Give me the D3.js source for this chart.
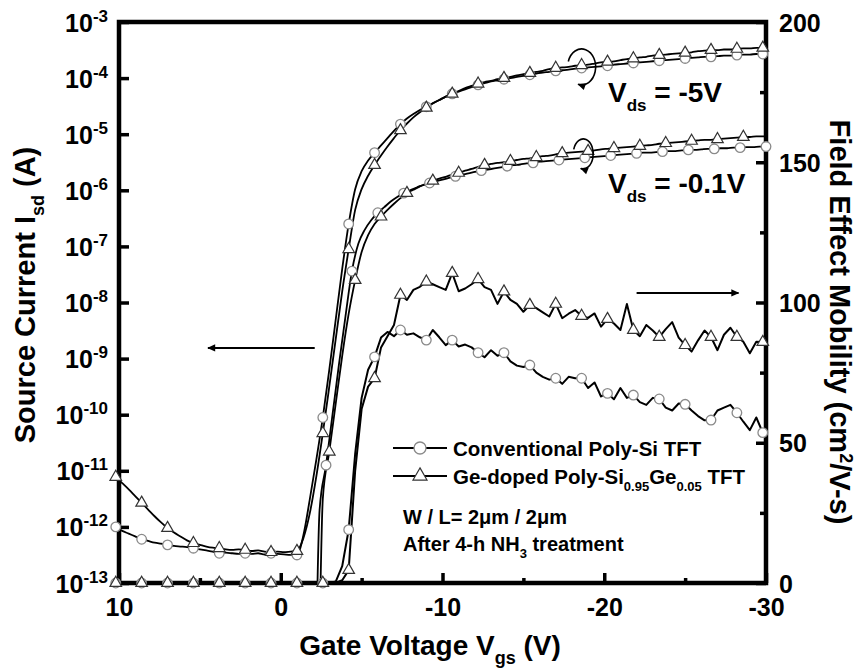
<!DOCTYPE html>
<html>
<head>
<meta charset="utf-8">
<script src="https://cdn.jsdelivr.net/npm/d3@7"></script>
<style>
    body { margin: 0; background: #fff; }
    svg { display: block; font-family: "Liberation Sans", Arial, sans-serif; font-weight: bold; }
</style>
</head>
<body>
<svg id="chart" width="864" height="670"></svg>
<script>
// gate sweep: first Vgs of each series and the step (V)
var vStartDrain5 = 10.2, vStartConv01 = 10.0, vStartGe01 = 9.8, vStartMob = 10.2, vStep = -0.4;

// log10 of source current (A)
var logIsdConv5 = [
    -12.00, -12.07, -12.12, -12.17, -12.22, -12.25, -12.28, -12.30, -12.32, -12.34,
    -12.35, -12.36, -12.38, -12.40, -12.42, -12.44, -12.47, -12.46, -12.47, -12.48,
    -12.47, -12.48, -12.47, -12.49, -12.47, -12.48, -12.49, -12.50, -12.50, -12.15,
    -11.50, -10.80, -10.05, -9.20, -8.30, -7.40, -6.60, -5.98, -5.66, -5.47,
    -5.33, -5.20, -5.07, -4.94, -4.82, -4.72, -4.64, -4.57, -4.51, -4.45,
    -4.39, -4.33, -4.28, -4.24, -4.20, -4.16, -4.12, -4.09, -4.06, -4.04,
    -4.02, -4.00, -3.98, -3.96, -3.94, -3.92, -3.90, -3.89, -3.87, -3.86,
    -3.85, -3.83, -3.82, -3.81, -3.80, -3.79, -3.78, -3.76, -3.75, -3.74,
    -3.73, -3.72, -3.71, -3.70, -3.69, -3.68, -3.67, -3.66, -3.65, -3.64,
    -3.63, -3.62, -3.62, -3.61, -3.60, -3.60, -3.59, -3.58, -3.58, -3.57, -3.57
];
var logIsdGe5 = [
    -11.11, -11.22, -11.33, -11.45, -11.57, -11.69, -11.81, -11.92, -12.02, -12.10,
    -12.17, -12.24, -12.29, -12.32, -12.35, -12.37, -12.38, -12.40, -12.41, -12.40,
    -12.41, -12.43, -12.42, -12.44, -12.45, -12.44, -12.45, -12.44, -12.43, -12.20,
    -11.75, -11.10, -10.33, -9.50, -8.65, -7.80, -7.05, -6.35, -5.98, -5.74,
    -5.55, -5.38, -5.22, -5.07, -4.93, -4.81, -4.70, -4.61, -4.53, -4.45,
    -4.39, -4.33, -4.28, -4.23, -4.18, -4.14, -4.10, -4.07, -4.05, -4.02,
    -4.00, -3.98, -3.95, -3.93, -3.91, -3.89, -3.87, -3.84, -3.82, -3.81,
    -3.80, -3.78, -3.77, -3.76, -3.74, -3.72, -3.71, -3.70, -3.68, -3.66,
    -3.65, -3.63, -3.62, -3.60, -3.59, -3.58, -3.57, -3.56, -3.55, -3.54,
    -3.52, -3.51, -3.50, -3.50, -3.49, -3.49, -3.48, -3.47, -3.47, -3.46, -3.46
];
// -0.1V curves sit below 1e-13 until about Vgs = -2 V
var logIsdConv01 = [
    -16, -16, -16, -16, -16, -16, -16, -16, -16, -16,
    -16, -16, -16, -16, -16, -16, -16, -16, -16, -16,
    -16, -16, -16, -16, -16, -16, -16, -16, -16, -16,
    -16, -11.70, -10.90, -10.00, -9.10, -8.25, -7.44, -6.95, -6.70, -6.53,
    -6.40, -6.30, -6.20, -6.12, -6.05, -6.00, -5.95, -5.91, -5.87, -5.84,
    -5.81, -5.78, -5.75, -5.72, -5.70, -5.67, -5.65, -5.63, -5.61, -5.59,
    -5.57, -5.55, -5.54, -5.52, -5.51, -5.49, -5.48, -5.47, -5.46, -5.45,
    -5.44, -5.43, -5.42, -5.41, -5.40, -5.39, -5.38, -5.37, -5.36, -5.35,
    -5.34, -5.33, -5.33, -5.32, -5.31, -5.30, -5.30, -5.29, -5.28, -5.28,
    -5.27, -5.26, -5.26, -5.25, -5.25, -5.24, -5.24, -5.23, -5.23, -5.22, -5.22
];
var logIsdGe01 = [
    -16, -16, -16, -16, -16, -16, -16, -16, -16, -16,
    -16, -16, -16, -16, -16, -16, -16, -16, -16, -16,
    -16, -16, -16, -16, -16, -16, -16, -16, -16, -16,
    -16, -11.50, -10.66, -9.80, -8.95, -8.20, -7.60, -7.10, -6.80, -6.60,
    -6.47, -6.35, -6.24, -6.14, -6.05, -5.99, -5.93, -5.88, -5.83, -5.79,
    -5.76, -5.72, -5.69, -5.65, -5.62, -5.58, -5.55, -5.53, -5.51, -5.50,
    -5.48, -5.46, -5.44, -5.43, -5.41, -5.39, -5.38, -5.36, -5.34, -5.33,
    -5.32, -5.31, -5.30, -5.29, -5.27, -5.26, -5.25, -5.24, -5.23, -5.22,
    -5.21, -5.20, -5.19, -5.17, -5.16, -5.15, -5.14, -5.13, -5.12, -5.11,
    -5.10, -5.10, -5.09, -5.08, -5.07, -5.06, -5.05, -5.05, -5.04, -5.04, -5.03
];

// field effect mobility (cm2/V-s)
var mobConv = [
    0, 0, 0, 0, 0, 0, 0, 0, 0, 0,
    0, 0, 0, 0, 0, 0, 0, 0, 0, 0,
    0, 0, 0, 0, 0, 0, 0, 0, 0, 0,
    0, 0, 0, 0, 0.5, 6.0, 19.0, 46.0, 66.0, 76.0,
    80.6, 87.5, 89.5, 88.0, 90.2, 88.5, 89.0, 87.6, 86.6, 90.2,
    87.6, 84.8, 86.6, 84.3, 85.0, 84.0, 82.1, 80.5, 83.0, 81.0,
    82.1, 79.0, 77.5, 77.0, 77.7, 75.0, 73.5, 72.5, 73.0, 71.0,
    73.5, 73.0, 73.0, 69.5, 71.5, 66.5, 67.6, 65.5, 69.5, 66.0,
    67.0, 64.5, 63.5, 66.0, 65.6, 62.5, 61.5, 64.0, 63.7, 61.5,
    59.5, 58.0, 58.1, 61.5, 62.5, 63.5, 60.7, 57.5, 54.5, 59.0, 53.6
];
var mobGe = [
    0, 0, 0, 0, 0, 0, 0, 0, 0, 0,
    0, 0, 0, 0, 0, 0, 0, 0, 0, 0,
    0, 0, 0, 0, 0, 0, 0, 0, 0, 0,
    0, 0, 0, 0, 0, 1.0, 4.6, 40.0, 62.0, 70.0,
    73.0, 84.0, 88.0, 92.0, 102.7, 100.9, 104.5, 105.6, 107.4, 106.5,
    105.5, 104.5, 110.5, 104.0, 105.0, 106.5, 108.3, 105.5, 104.5, 99.5,
    103.9, 100.9, 99.5, 96.7, 99.1, 98.0, 96.5, 95.0, 99.5, 94.4,
    96.0, 97.3, 95.2, 94.5, 96.1, 91.4, 94.1, 92.5, 90.2, 99.5,
    90.2, 88.0, 92.0, 90.0, 87.7, 90.5, 93.0, 87.5, 84.8, 82.5,
    86.5, 90.0, 87.7, 83.0, 88.5, 91.0, 87.7, 86.0, 81.9, 86.0, 85.9
];

var xTicksMajor = [10, 0, -10, -20, -30];
var xTicksMinor = [5, -5, -15, -25];
var isdExponents = [-3, -4, -5, -6, -7, -8, -9, -10, -11, -12, -13];
var mobTicksMajor = [0, 50, 100, 150, 200];
var mobTicksMinor = [25, 75, 125, 175];
var markerEvery = 4;

var svg = d3.select("#chart");
var plot = {left: 119, right: 766, top: 22, bottom: 583};

var x = d3.scaleLinear().domain([10, -30]).range([plot.left, plot.right]);
var yIsd = d3.scaleLog().domain([1e-13, 1e-3]).range([plot.bottom, plot.top]);
var yMob = d3.scaleLinear().domain([0, 200]).range([plot.bottom, plot.top]);

function toPoints(v0, vals, isLog) {
    return vals.map(function (v, i) {
        return {vgs: v0 + vStep * i, val: isLog ? Math.pow(10, v) : v};
    });
}

var series = [
    {pts: toPoints(vStartDrain5, logIsdConv5, true), y: yIsd, sym: "circle", curve: d3.curveMonotoneX},
    {pts: toPoints(vStartDrain5, logIsdGe5, true), y: yIsd, sym: "triangle", curve: d3.curveMonotoneX},
    {pts: toPoints(vStartConv01, logIsdConv01, true), y: yIsd, sym: "circle", curve: d3.curveMonotoneX},
    {pts: toPoints(vStartGe01, logIsdGe01, true), y: yIsd, sym: "triangle", curve: d3.curveMonotoneX},
    {pts: toPoints(vStartMob, mobConv, false), y: yMob, sym: "circle", curve: d3.curveLinear},
    {pts: toPoints(vStartMob, mobGe, false), y: yMob, sym: "triangle", curve: d3.curveLinear}
];

var defs = svg.append("defs");
defs.append("clipPath").attr("id", "plot-clip")
    .append("rect")
    .attr("x", plot.left).attr("y", plot.top - 2)
    .attr("width", plot.right - plot.left).attr("height", plot.bottom - plot.top + 4);
defs.append("marker")
    .attr("id", "arrow-head")
    .attr("viewBox", "0 0 10 10")
    .attr("refX", 9).attr("refY", 5)
    .attr("markerWidth", 11).attr("markerHeight", 8)
    .attr("markerUnits", "userSpaceOnUse")
    .attr("orient", "auto")
    .append("path").attr("d", "M0,0.5 L10,5 L0,9.5 z").attr("fill", "#000");

// curves
var lines = svg.append("g").attr("clip-path", "url(#plot-clip)");
series.forEach(function (s) {
    var line = d3.line()
        .x(function (d) { return x(d.vgs); })
        .y(function (d) { return s.y(d.val); })
        .curve(s.curve);
    lines.append("path")
        .datum(s.pts)
        .attr("d", line)
        .attr("fill", "none")
        .attr("stroke", "#000")
        .attr("stroke-width", s.y === yMob ? 2 : 1.8)
        .attr("stroke-linejoin", "round");
});

// frame
svg.append("rect")
    .attr("x", plot.left).attr("y", plot.top)
    .attr("width", plot.right - plot.left).attr("height", plot.bottom - plot.top)
    .attr("fill", "none").attr("stroke", "#000").attr("stroke-width", 4.5);

function styleAxis(g, fontSize) {
    g.select(".domain").remove();
    g.attr("font-family", null).attr("font-size", null);
    g.selectAll(".tick line").attr("stroke", "#000").attr("stroke-width", 3.5);
    g.selectAll(".tick text").attr("fill", "#000").style("font-size", fontSize + "px");
}

// bottom axis
svg.append("g")
    .attr("transform", "translate(0," + plot.bottom + ")")
    .call(d3.axisBottom(x).tickValues(xTicksMajor).tickSize(-10)
        .tickFormat(function (d) { return String(d); }))
    .call(styleAxis, 25)
    .call(function (g) { g.selectAll(".tick text").attr("y", 33).attr("dy", null); });
svg.append("g")
    .attr("transform", "translate(0," + plot.bottom + ")")
    .call(d3.axisBottom(x).tickValues(xTicksMinor).tickSize(-5).tickFormat(""))
    .call(styleAxis, 25);

// left axis, labels as 10^n
svg.append("g")
    .attr("transform", "translate(" + plot.left + ",0)")
    .call(d3.axisLeft(yIsd).tickValues(isdExponents.map(function (e) { return Math.pow(10, e); }))
        .tickSize(-10).tickPadding(11).tickFormat(""))
    .call(styleAxis, 25)
    .call(function (g) {
        g.selectAll(".tick text").each(function (d, i) {
            var t = d3.select(this).attr("dy", "0.36em");
            t.append("tspan").text("10");
            t.append("tspan").attr("dy", -10).style("font-size", "17px").text(String(isdExponents[i]));
        });
    });

// right axis
svg.append("g")
    .attr("transform", "translate(" + plot.right + ",0)")
    .call(d3.axisRight(yMob).tickValues(mobTicksMajor).tickSize(-10).tickPadding(13)
        .tickFormat(function (d) { return String(d); }))
    .call(styleAxis, 25)
    .call(function (g) { g.selectAll(".tick text").attr("dy", "0.36em"); });
svg.append("g")
    .attr("transform", "translate(" + plot.right + ",0)")
    .call(d3.axisRight(yMob).tickValues(mobTicksMinor).tickSize(-6).tickFormat(""))
    .call(styleAxis, 25);

// symbols
var triangle = d3.symbol().type(d3.symbolTriangle).size(58);
function drawSymbol(g, sym, px, py, big) {
    if (sym === "circle") {
        g.append("circle").attr("cx", px).attr("cy", py).attr("r", big ? 6 : 4.8)
            .attr("fill", "#fff").attr("stroke", "#8a8a8a").attr("stroke-width", 1.3);
    } else {
        g.append("path").attr("d", big ? d3.symbol().type(d3.symbolTriangle).size(85)() : triangle())
            .attr("transform", "translate(" + px + "," + py + ")")
            .attr("fill", "#fff").attr("stroke", "#333").attr("stroke-width", 1.2);
    }
}
var marks = svg.append("g");
["circle", "triangle"].forEach(function (sym) {
    series.filter(function (s) { return s.sym === sym; }).forEach(function (s) {
        var lo = s.y.domain()[0];
        s.pts.forEach(function (d, i) {
            if (i % markerEvery !== 0) return;
            if (d.val < lo || d.vgs < -30) return;
            drawSymbol(marks, sym, x(d.vgs), s.y(d.val), false);
        });
    });
});

// straight arrows pointing at each axis
svg.append("line")
    .attr("x1", x(-2.1)).attr("y1", yIsd(Math.pow(10, -8.81)))
    .attr("x2", x(4.5)).attr("y2", yIsd(Math.pow(10, -8.81)))
    .attr("stroke", "#000").attr("stroke-width", 2).attr("marker-end", "url(#arrow-head)");
svg.append("line")
    .attr("x1", x(-22)).attr("y1", yMob(103.4))
    .attr("x2", x(-28.3)).attr("y2", yMob(103.4))
    .attr("stroke", "#000").attr("stroke-width", 2).attr("marker-end", "url(#arrow-head)");

// curled arrows around the Vds pairs
function curl(cx, cy, rx, ry) {
    var sx = cx - rx * 0.95, sy = cy - ry * 0.3;
    var ex = cx - rx * 0.25, ey = cy + ry * 0.97;
    svg.append("path")
        .attr("d", "M" + sx + "," + sy + " A" + rx + "," + ry + " 0 1,1 " + ex + "," + ey)
        .attr("fill", "none").attr("stroke", "#000").attr("stroke-width", 1.6)
        .attr("marker-end", "url(#arrow-head)");
}
curl(x(-18.6), yIsd(Math.pow(10, -3.8)), 14, 18);
curl(x(-18.7), yIsd(Math.pow(10, -5.35)), 10, 15);

function vdsLabel(px, py, value) {
    var t = svg.append("text").attr("x", px).attr("y", py).style("font-size", "28px");
    t.append("tspan").text("V");
    t.append("tspan").attr("dy", 9).style("font-size", "17px").text("ds");
    t.append("tspan").attr("dy", -9).text(" = " + value);
}
vdsLabel(608, 102, "-5V");
vdsLabel(608, 193, "-0.1V");

// legend
var legend = svg.append("g");
[{sym: "circle", y: 448}, {sym: "triangle", y: 476}].forEach(function (r) {
    legend.append("line").attr("x1", 393).attr("x2", 447).attr("y1", r.y).attr("y2", r.y)
        .attr("stroke", "#000").attr("stroke-width", 2);
    drawSymbol(legend, r.sym, 420, r.y, true);
});
legend.append("text").attr("x", 453).attr("y", 455.5).style("font-size", "20.5px")
    .text("Conventional Poly-Si TFT");
var lg2 = legend.append("text").attr("x", 453).attr("y", 484).style("font-size", "20.5px");
lg2.append("tspan").text("Ge-doped Poly-Si");
lg2.append("tspan").attr("dy", 7).style("font-size", "13px").text("0.95");
lg2.append("tspan").attr("dy", -7).text("Ge");
lg2.append("tspan").attr("dy", 7).style("font-size", "13px").text("0.05");
lg2.append("tspan").attr("dy", -7).text(" TFT");

svg.append("text").attr("x", 403).attr("y", 524).style("font-size", "20px")
    .text("W / L= 2\u03bcm / 2\u03bcm");
var nh3 = svg.append("text").attr("x", 403).attr("y", 551).style("font-size", "20px");
nh3.append("tspan").text("After 4-h NH");
nh3.append("tspan").attr("dy", 7).style("font-size", "13px").text("3");
nh3.append("tspan").attr("dy", -7).text(" treatment");

// axis titles
var xt = svg.append("text").attr("x", 430).attr("y", 655).attr("text-anchor", "middle")
    .style("font-size", "28px");
xt.append("tspan").text("Gate Voltage V");
xt.append("tspan").attr("dy", 9).style("font-size", "18px").text("gs");
xt.append("tspan").attr("dy", -9).text(" (V)");

var yl = svg.append("text").attr("transform", "translate(35,295) rotate(-90)")
    .attr("text-anchor", "middle").style("font-size", "29px");
yl.append("tspan").text("Source Current I");
yl.append("tspan").attr("dy", 9).style("font-size", "18px").text("sd");
yl.append("tspan").attr("dy", -9).text(" (A)");

var yr = svg.append("text").attr("transform", "translate(830,322) rotate(90)")
    .attr("text-anchor", "middle").style("font-size", "29px");
yr.append("tspan").text("Field Effect Mobility (cm");
yr.append("tspan").attr("dy", -10).style("font-size", "18px").text("2");
yr.append("tspan").attr("dy", 10).text("/V-s)");
</script>
</body>
</html>
